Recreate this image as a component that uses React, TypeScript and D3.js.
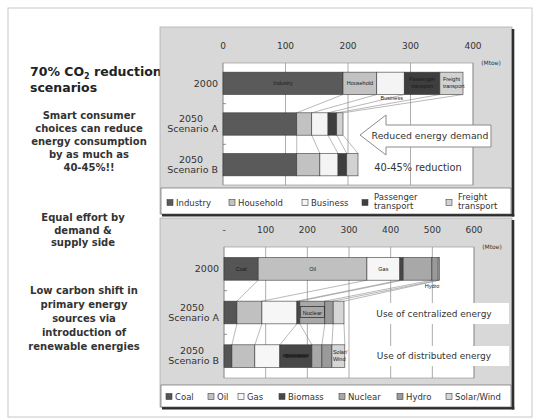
import React from "react";
import * as d3 from "d3";

// ---------- data ----------
const categories = ["2000", "2050 Scenario A", "2050 Scenario B"];

const demandKeys = ["Industry", "Household", "Business", "Passenger transport", "Freight transport"];
const industry = [192, 118, 118];
const household = [54, 24, 37];
const business = [44, 26, 29];
const passenger = [57, 14, 14];
const freight = [37, 10, 18];
const demandTicks = [0, 100, 200, 300, 400];

const supplyKeys = ["Coal", "Oil", "Gas", "Biomass", "Nuclear", "Hydro", "Solar/Wind"];
const coal = [82, 31, 19];
const oil = [261, 60, 55];
const gas = [79, 84, 60];
const biomass = [8, 7, 77];
const nuclear = [69, 60, 24];
const hydro = [15, 20, 24];
const solarWind = [3, 26, 31];
const supplyTicks = [0, 100, 200, 300, 400, 500, 600];

const demandColors = ["#5a5a5a", "#c2c2c2", "#f4f4f4", "#3e3e3e", "#d2d2d2"];
const supplyColors = ["#555555", "#c0c0c0", "#f6f6f6", "#474747", "#a8a8a8", "#9a9a9a", "#d6d6d6"];

const FONT = "DejaVu Sans, Verdana, sans-serif";
const SMALLFONT = "Liberation Sans, Arial, sans-serif";

function buildRows(keys: string[], series: number[][]) {
  return categories.map((c, i) => {
    const row: any = { cat: c };
    keys.forEach((k, j) => (row[k] = series[j][i]));
    return row;
  });
}

function CatLabel({ x, y, cat }: { x: number; y: number; cat: string }) {
  if (cat === "2000")
    return (
      <text x={x} y={y + 3.5} textAnchor="end" fontSize={9.5} fill="#333">
        2000
      </text>
    );
  const parts = cat.split(" ");
  return (
    <text x={x} textAnchor="end" fontSize={9.5} fill="#333">
      <tspan x={x - 27} y={y - 2} textAnchor="middle">{parts[0]}</tspan>
      <tspan x={x} y={y + 8}>{parts.slice(1).join(" ")}</tspan>
    </text>
  );
}

function StackPanel(props: {
  keys: string[];
  series: number[][];
  colors: string[];
  ticks: number[];
  tickFmt: (d: number) => string;
  xMax: number;
  left: number;
  right: number;
  top: number;
  bottom: number;
  padding: number;
  children?: any;
}) {
  const { keys, series, colors, ticks, tickFmt, xMax, left, right, top, bottom, padding } = props;
  const rows = buildRows(keys, series);
  const stack = d3.stack<any>().keys(keys)(rows);
  const x = d3.scaleLinear().domain([0, xMax]).range([left, right]);
  const y = d3.scaleBand<string>().domain(categories).range([top, bottom]).paddingInner(padding).paddingOuter(padding / 2);
  const bw = y.bandwidth();

  const leaders: any[] = [];
  for (let i = 0; i < categories.length - 1; i++) {
    const y1 = (y(categories[i]) as number) + bw;
    const y2 = y(categories[i + 1]) as number;
    stack.forEach((layer, li) => {
      leaders.push(
        <line key={`l${i}-${li}`} x1={x(layer[i][1])} y1={y1} x2={x(layer[i + 1][1])} y2={y2} stroke="#8a8a8a" strokeWidth={0.6} />
      );
    });
  }

  return (
    <g fontFamily={FONT}>
      <rect x={left} y={top} width={right - left} height={bottom - top} fill="#fff" stroke="#9a9a9a" strokeWidth={0.7} />
      {ticks.map((t) => (
        <g key={t}>
          <line x1={x(t)} x2={x(t)} y1={top} y2={bottom} stroke="#8a8a8a" strokeWidth={0.7} />
          <text x={x(t)} y={top - 14} textAnchor="middle" fontSize={9} fill="#333">
            {tickFmt(t)}
          </text>
        </g>
      ))}
      <text x={right + 18} y={top + 2} textAnchor="middle" fontSize={6} fill="#333">(Mtoe)</text>
      {categories.slice(0, -1).map((c, i) => {
        const yy = ((y(c) as number) + bw + (y(categories[i + 1]) as number)) / 2;
        return <line key={c} x1={left} x2={left + 3} y1={yy} y2={yy} stroke="#666" strokeWidth={0.7} />;
      })}
      {leaders}
      {stack.map((layer, li) => (
        <g key={keys[li]}>
          {layer.map((d, i) => (
            <rect
              key={i}
              x={x(d[0])}
              y={y(categories[i])}
              width={Math.max(0, x(d[1]) - x(d[0]))}
              height={bw}
              fill={colors[li]}
              stroke="#3a3a3a"
              strokeWidth={0.6}
            />
          ))}
        </g>
      ))}
      {categories.map((c) => (
        <CatLabel key={c} x={left - 5} y={(y(c) as number) + bw / 2} cat={c} />
      ))}
      {props.children && props.children(x, y, stack)}
    </g>
  );
}

function Legend({ keys, colors, y, xs, twoLine }: { keys: string[]; colors: string[]; y: number; xs: number[]; twoLine?: boolean }) {
  return (
    <g fontFamily={FONT} fontSize={8.5} fill="#333">
      {keys.map((k, i) => {
        const words = k.split(" ");
        const multi = twoLine && words.length > 1;
        return (
          <g key={k}>
            <rect x={xs[i]} y={y - 3.5} width={6} height={6} fill={colors[i]} stroke="#444" strokeWidth={0.6} />
            {multi ? (
              <text x={xs[i] + 12} fill="#333">
                <tspan x={xs[i] + 12} y={y - 3}>{words[0]}</tspan>
                <tspan x={xs[i] + 12} y={y + 6}>{words.slice(1).join(" ")}</tspan>
              </text>
            ) : (
              <text x={xs[i] + 9} y={y + 3}>{k}</text>
            )}
          </g>
        );
      })}
    </g>
  );
}

function Panel({ x, y, w, h }: { x: number; y: number; w: number; h: number }) {
  return (
    <g>
      <rect x={x} y={y} width={w} height={h} fill="#d8d8d8" stroke="#b0b0b0" strokeWidth={0.8} />
      <line x1={x + w + 1} x2={x + w + 1} y1={y + 2} y2={y + h + 2.5} stroke="#2e2e2e" strokeWidth={2.6} />
      <line x1={x + 2} x2={x + w + 2.3} y1={y + h + 1.2} y2={y + h + 1.2} stroke="#2e2e2e" strokeWidth={2.6} />
    </g>
  );
}

const leftTop = ["Smart consumer", "choices can reduce", "energy consumption", "by as much as", "40-45%!!"];
const leftMid = ["Equal effort by", "demand &", "supply side"];
const leftBottom = ["Low carbon shift in", "primary energy", "sources via", "introduction of", "renewable energies"];

export default function App() {
  const small = { fontSize: 5.5, fill: "#1a1a1a", fontFamily: SMALLFONT };
  return (
    <svg width={540} height={420} style={{ position: "absolute", left: 0, top: 0, background: "#fff" }}>
      <rect x={8} y={8} width={524} height={409} fill="#fff" stroke="#c8c8c8" strokeWidth={1} />

      {/* left text column */}
      <g fontFamily={FONT} fill="#222">
        <text x={30} y={76} fontSize={12.5} fontWeight="bold">
          70% CO<tspan fontSize={8} dy={3}>2</tspan>
          <tspan dy={-3}> reduction</tspan>
        </text>
        <text x={30} y={92} fontSize={12.5} fontWeight="bold">scenarios</text>
        {leftTop.map((t, i) => (
          <text key={t} x={89} y={119 + i * 13} textAnchor="middle" fontSize={10} fontWeight="bold" fill="#333">{t}</text>
        ))}
        {leftMid.map((t, i) => (
          <text key={t} x={83} y={221 + i * 12.5} textAnchor="middle" fontSize={10} fontWeight="bold" fill="#333">{t}</text>
        ))}
        {leftBottom.map((t, i) => (
          <text key={t} x={84} y={294 + i * 14} textAnchor="middle" fontSize={10} fontWeight="bold" fill="#333">{t}</text>
        ))}
      </g>

      {/* top panel: final energy demand */}
      <Panel x={160} y={27} w={352} h={187} />
      <rect x={161} y={188} width={350} height={26} fill="#fff" stroke="#555" strokeWidth={0.6} />
      <StackPanel
        keys={demandKeys}
        series={[industry, household, business, passenger, freight]}
        colors={demandColors}
        ticks={demandTicks}
        tickFmt={(d) => String(d)}
        xMax={400}
        left={223}
        right={473}
        top={63}
        bottom={185}
        padding={0.45}
      >
        {(x: any, y: any, stack: any) => {
          const bw = y.bandwidth();
          const cy = (c: string) => y(c) + bw / 2;
          const mid = (li: number, i: number) => (x(stack[li][i][0]) + x(stack[li][i][1])) / 2;
          return (
            <g>
              <text x={mid(0, 0)} y={cy("2000") + 2} textAnchor="middle" {...small}>Industry</text>
              <text x={mid(1, 0)} y={cy("2000") + 2} textAnchor="middle" {...small}>Household</text>
              <text x={x(stack[2][0][0]) + 15} y={cy("2000") + 17} textAnchor="middle" {...small}>Business</text>
              <text textAnchor="middle" {...small}>
                <tspan x={mid(3, 0)} y={cy("2000") - 2}>Passenger</tspan>
                <tspan x={mid(3, 0)} y={cy("2000") + 5}>transport</tspan>
              </text>
              <text {...small}>
                <tspan x={x(stack[4][0][0]) + 3} y={cy("2000") - 2}>Freight</tspan>
                <tspan x={x(stack[4][0][0]) + 3} y={cy("2000") + 5}>transport</tspan>
              </text>
              <path
                d={`M360,135 L386,115 L386,125 L491,125 L491,147 L386,147 L386,155 Z`}
                fill="#fff"
                stroke="#8a8a8a"
                strokeWidth={1}
              />
              <text x={430} y={139} textAnchor="middle" fontSize={9.3} fill="#333" fontFamily={FONT}>Reduced energy demand</text>
              <text x={418} y={171} textAnchor="middle" fontSize={9.8} fill="#333" fontFamily={FONT}>40-45% reduction</text>
            </g>
          );
        }}
      </StackPanel>
      <Legend keys={demandKeys} colors={demandColors} y={203} xs={[167, 229, 302, 362, 446]} twoLine />

      {/* bottom panel: primary energy supply */}
      <Panel x={160} y={218} w={352} h={189} />
      <rect x={161} y={385} width={350} height={22} fill="#fff" stroke="#555" strokeWidth={0.6} />
      <StackPanel
        keys={supplyKeys}
        series={[coal, oil, gas, biomass, nuclear, hydro, solarWind]}
        colors={supplyColors}
        ticks={supplyTicks}
        tickFmt={(d) => (d === 0 ? "-" : String(d))}
        xMax={600}
        left={224}
        right={474}
        top={247}
        bottom={378}
        padding={0.48}
      >
        {(x: any, y: any, stack: any) => {
          const bw = y.bandwidth();
          const cy = (c: string) => y(c) + bw / 2;
          const mid = (li: number, i: number) => (x(stack[li][i][0]) + x(stack[li][i][1])) / 2;
          return (
            <g>
              <text x={mid(0, 0)} y={cy("2000") + 2} textAnchor="middle" {...small}>Coal</text>
              <text x={mid(1, 0)} y={cy("2000") + 2} textAnchor="middle" {...small}>Oil</text>
              <text x={mid(2, 0)} y={cy("2000") + 2} textAnchor="middle" {...small}>Gas</text>
              <text x={mid(5, 0) - 3} y={cy("2000") + 19} textAnchor="middle" {...small}>Hydro</text>
              <rect x={mid(4, 1) - 12} y={cy("2050 Scenario A") - 6} width={24} height={11} fill="none" stroke="#333" strokeWidth={0.8} />
              <text x={mid(4, 1)} y={cy("2050 Scenario A") + 2} textAnchor="middle" {...small}>Nuclear</text>
              <rect x={mid(3, 2) - 13} y={cy("2050 Scenario B") - 2} width={26} height={3} fill="#2a2a2a" />
              <text x={mid(3, 2)} y={cy("2050 Scenario B") + 2} textAnchor="middle" {...small}>Biomass</text>
              <text {...small}>
                <tspan x={x(stack[6][2][0]) + 1} y={cy("2050 Scenario B") - 2}>Solar/</tspan>
                <tspan x={x(stack[6][2][0]) + 1} y={cy("2050 Scenario B") + 5}>Wind</tspan>
              </text>
              <rect x={360} y={303} width={149} height={21} fill="#fff" />
              <text x={434} y={317} textAnchor="middle" fontSize={9} fill="#333" fontFamily={FONT}>Use of centralized energy</text>
              <rect x={360} y={346} width={149} height={20} fill="#fff" />
              <text x={434} y={359} textAnchor="middle" fontSize={9} fill="#333" fontFamily={FONT}>Use of distributed energy</text>
            </g>
          );
        }}
      </StackPanel>
      <Legend keys={supplyKeys} colors={supplyColors} y={397} xs={[166, 208, 238, 279, 339, 397, 446]} />
    </svg>
  );
}
